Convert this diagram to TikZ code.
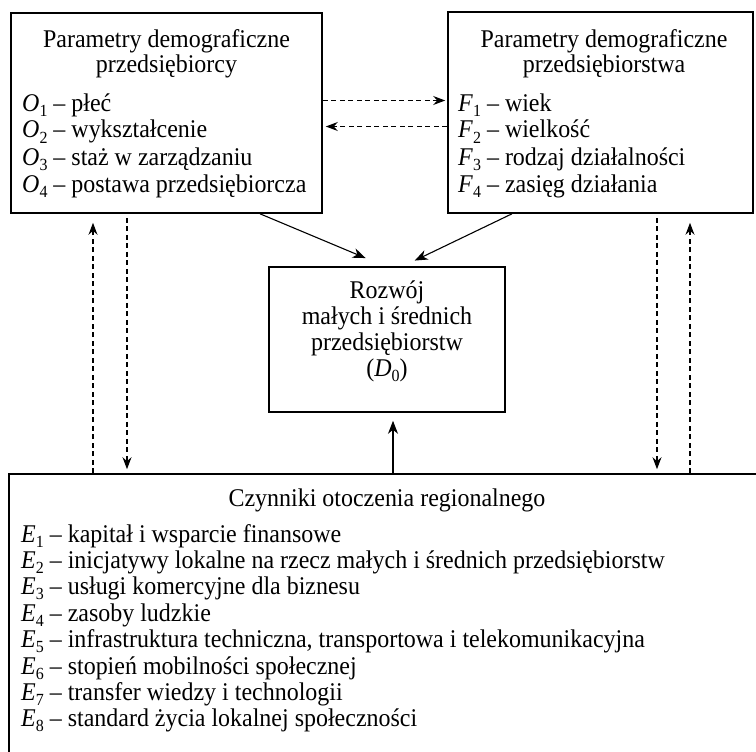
\documentclass[tikz,border=0pt]{standalone}
\usepackage{fontspec}
\setmainfont{Liberation Serif}[FakeStretch=0.94]
\usetikzlibrary{arrows.meta}
% italic symbol with a small lowered index, e.g. O_1
\newcommand\idx[2]{\textit{#1}\raisebox{-0.2em}{\fontsize{17}{17}\selectfont #2}}

\begin{document}
\begin{tikzpicture}[x=1pt,y=-1pt,
  box/.style={draw,line width=1.6pt,inner sep=0pt},
  txt/.style={inner sep=0pt,font=\fontsize{25.5}{30}\selectfont},
  item/.style={txt,anchor=base west},
  head/.style={txt,anchor=base},
  flow/.style={line width=1.1pt,-{Stealth[length=13pt,width=10pt,inset=4pt]}},
  link/.style={line width=1.1pt,dash pattern=on 5pt off 3.5pt,
               -{Stealth[length=12pt,width=9pt,inset=4pt]}}]
\clip (0,0) rectangle (756,752);

% boxes
\node[box,minimum width=311pt,minimum height=200pt] (O) at (166.5,113) {};
\node[box,minimum width=305pt,minimum height=201pt] (F) at (600.5,112.5) {};
\node[box,minimum width=236pt,minimum height=145pt] (D) at (387,339.5) {};
\node[box,minimum width=760pt,minimum height=300pt] (E) at (389,624) {};

% entrepreneur parameters
\node[head] (ot1) at (166.5,48) {Parametry demograficzne};
\node[head] (ot2) at (166.5,73) {przedsiębiorcy};
\node[item] (o1) at (22,111) {\idx{O}{1} – płeć};
\node[item] (o2) at (22,138) {\idx{O}{2} – wykształcenie};
\node[item] (o3) at (22,165) {\idx{O}{3} – staż w zarządzaniu};
\node[item] (o4) at (22,192) {\idx{O}{4} – postawa przedsiębiorcza};

% enterprise parameters
\node[head] (ft1) at (604,48) {Parametry demograficzne};
\node[head] (ft2) at (604,73) {przedsiębiorstwa};
\node[item] (f1) at (458,111) {\idx{F}{1} – wiek};
\node[item] (f2) at (458,138) {\idx{F}{2} – wielkość};
\node[item] (f3) at (458,165) {\idx{F}{3} – rodzaj działalności};
\node[item] (f4) at (458,192) {\idx{F}{4} – zasięg działania};

% development
\node[head] (d1) at (387,298) {Rozwój};
\node[head] (d2) at (387,324) {małych i średnich};
\node[head] (d3) at (387,350) {przedsiębiorstw};
\node[head] (d4) at (387,376) {(\idx{D}{0})};

% regional environment
\node[head] (et) at (387,506) {Czynniki otoczenia regionalnego};
\node[item] (e1) at (21,542) {\idx{E}{1} – kapitał i wsparcie finansowe};
\node[item] (e2) at (21,568.4) {\idx{E}{2} – inicjatywy lokalne na rzecz małych i średnich przedsiębiorstw};
\node[item] (e3) at (21,594.8) {\idx{E}{3} – usługi komercyjne dla biznesu};
\node[item] (e4) at (21,621.2) {\idx{E}{4} – zasoby ludzkie};
\node[item] (e5) at (21,647.6) {\idx{E}{5} – infrastruktura techniczna, transportowa i telekomunikacyjna};
\node[item] (e6) at (21,674) {\idx{E}{6} – stopień mobilności społecznej};
\node[item] (e7) at (21,700.4) {\idx{E}{7} – transfer wiedzy i technologii};
\node[item] (e8) at (21,726.8) {\idx{E}{8} – standard życia lokalnej społeczności};

% connector positions
\coordinate (xoa) at (260,0);
\coordinate (xdb) at (385,0);
\coordinate (xfa) at (512,0);
\coordinate (xdc) at (403,0);
\coordinate (xc) at (393,0);
\coordinate (xl1) at (93,0);
\coordinate (xl2) at (127,0);
\coordinate (xr1) at (657,0);
\coordinate (xr2) at (690,0);
\coordinate (yh1) at (0,100.5);
\coordinate (yh2) at (0,126.5);

% solid influences on development
\draw[flow,shorten >=21pt] (O.south -| xoa) -- (D.north -| xdb);
\draw[flow,shorten >=13pt] (F.south -| xfa) -- (D.north -| xdc);
\draw[flow,shorten >=8pt] (E.north -| xc) -- (D.south -| xc);

% dashed feedback links
\draw[link,shorten >=2pt] (O.east |- yh1) -- (F.west |- yh1);
\draw[link,shorten >=3pt] (F.west |- yh2) -- (O.east |- yh2);
\draw[link,shorten >=9pt] (E.north -| xl1) -- (O.south -| xl1);
\draw[link,shorten <=4pt,shorten >=4pt] (O.south -| xl2) -- (E.north -| xl2);
\draw[link,shorten <=4pt,shorten >=4pt] (F.south -| xr1) -- (E.north -| xr1);
\draw[link,shorten >=9pt] (E.north -| xr2) -- (F.south -| xr2);
\end{tikzpicture}
\end{document}
